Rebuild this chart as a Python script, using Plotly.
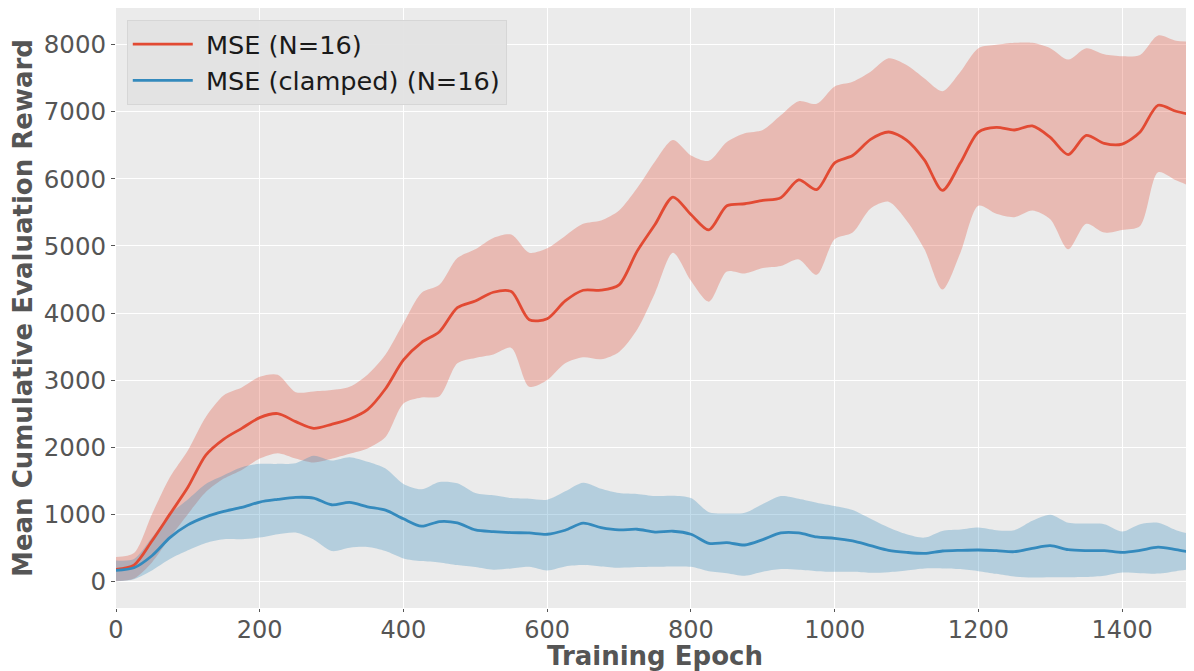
import plotly.graph_objects as go

# ---------------- data ----------------
epochs = list(range(0, 1501, 25))

mse_mean = [175, 240, 600, 1000, 1400, 1880, 2120, 2280, 2440, 2500,
            2380, 2280, 2340, 2420, 2560, 2870, 3300, 3560, 3720, 4080,
            4180, 4310, 4320, 3900, 3915, 4180, 4340, 4340, 4420, 4920,
            5320, 5730, 5470, 5240, 5600, 5630, 5680, 5720, 5985, 5840,
            6240, 6350, 6590, 6700, 6580, 6280, 5830, 6240, 6700, 6770,
            6730, 6790, 6620, 6363, 6650, 6531, 6520, 6700, 7100, 7010,
            6950]
mse_upper = [360, 420, 1000, 1550, 1950, 2450, 2775, 2890, 3050, 3080,
             2820, 2830, 2850, 2900, 3080, 3380, 3850, 4300, 4420, 4820,
             4950, 5120, 5170, 4900, 4965, 5150, 5330, 5380, 5530, 5860,
             6260, 6580, 6350, 6270, 6550, 6680, 6730, 6950, 7160, 7120,
             7380, 7450, 7600, 7800, 7700, 7500, 7310, 7600, 7950, 8000,
             8030, 8030, 7950, 7780, 7950, 7860, 7830, 7850, 8140, 8060,
             8050]
mse_lower = [0, 40, 280, 650, 1000, 1330, 1530, 1660, 1830, 1910,
             1830, 1770, 1825, 1900, 1980, 2150, 2650, 2740, 2760, 3250,
             3330, 3380, 3480, 2900, 3000, 3250, 3340, 3310, 3420, 3750,
             4300, 4900, 4480, 4170, 4620, 4590, 4670, 4700, 4800, 4570,
             5100, 5200, 5560, 5660, 5380, 4950, 4350, 4900, 5600, 5480,
             5430, 5530, 5400, 4950, 5330, 5200, 5240, 5300, 6100, 5980,
             5870]

clamp_mean = [160, 200, 380, 650, 840, 960, 1040, 1100, 1180, 1220,
              1250, 1240, 1140, 1175, 1110, 1060, 930, 820, 890, 870,
              765, 740, 725, 720, 700, 760, 865, 800, 765, 775,
              733, 745, 700, 565, 575, 540, 620, 720, 720, 660,
              640, 600, 530, 460, 430, 415, 450, 460, 465, 455,
              440, 490, 530, 470, 456, 456, 430, 460, 507, 470,
              422]
clamp_upper = [310, 330, 650, 1000, 1220, 1450, 1580, 1700, 1750, 1750,
               1760, 1870, 1800, 1850, 1780, 1680, 1450, 1370, 1480, 1460,
               1315, 1280, 1240, 1230, 1215, 1340, 1470, 1380, 1315, 1300,
               1270, 1275, 1240, 1030, 1010, 1020, 1150, 1270, 1230, 1170,
               1120, 1060, 930, 800, 700, 650, 750, 770, 800, 760,
               760, 900, 990, 870, 860, 850, 740, 850, 870, 760,
               690]
clamp_lower = [0, 30, 160, 330, 460, 570, 625, 625, 650, 700,
               725, 620, 450, 500, 510, 450, 340, 300, 280, 240,
               210, 170, 190, 215, 160, 220, 240, 220, 200, 210,
               215, 220, 215, 150, 120, 80, 140, 180, 170, 150,
               140, 140, 125, 135, 160, 190, 190, 180, 150, 110,
               70, 55, 60, 60, 62, 80, 130, 120, 113, 150,
               186]

x_ticks = [0, 200, 400, 600, 800, 1000, 1200, 1400]
y_ticks = [0, 1000, 2000, 3000, 4000, 5000, 6000, 7000, 8000]

series = [
    ("MSE (N=16)", mse_mean, mse_lower, mse_upper, "#E24A33", "rgba(226,74,51,0.30)"),
    ("MSE (clamped) (N=16)", clamp_mean, clamp_lower, clamp_upper, "#348ABD", "rgba(52,138,189,0.30)"),
]

FONT = "DejaVu Sans"
fig = go.Figure()

# bands first (below lines)
for name, mean, lo, hi, col, fcol in series:
    fig.add_trace(go.Scatter(x=epochs, y=lo, mode="lines",
                             line=dict(width=0, shape="spline", smoothing=0.8),
                             showlegend=False, hoverinfo="skip"))
    fig.add_trace(go.Scatter(x=epochs, y=hi, mode="lines", fill="tonexty",
                             fillcolor=fcol,
                             line=dict(width=0, shape="spline", smoothing=0.8),
                             showlegend=False, hoverinfo="skip"))

for name, mean, lo, hi, col, fcol in series:
    fig.add_trace(go.Scatter(x=epochs, y=mean, mode="lines", name="\u00a0" + name,
                             line=dict(color=col, width=2.8, shape="spline", smoothing=0.8)))

# the page body adds an 8px offset, so the figure is sized 8px smaller
fig.update_layout(
    width=1186, height=663,
    margin=dict(l=108, r=0, t=0, b=63),
    paper_bgcolor="white",
    plot_bgcolor="#EBEBEB",
    font=dict(family=FONT, color="#555555", size=24),
    showlegend=True,
    legend=dict(x=0.01, y=0.98, xanchor="left", yanchor="top",
                traceorder="normal",
                bgcolor="rgba(227,227,227,0.95)", bordercolor="#D6D6D6", borderwidth=1,
                font=dict(family=FONT, size=25.6, color="#1a1a1a"),
                itemwidth=60),
)
fig.update_xaxes(
    range=[0, 1500], tickvals=x_ticks, ticktext=[str(v) for v in x_ticks],
    showgrid=True, gridcolor="white", gridwidth=1, zeroline=False,
    ticks="outside", ticklen=3, tickcolor="#555555", ticklabelstandoff=-3,
    tickfont=dict(family=FONT, size=24, color="#555555"),
    title=dict(text="Training Epoch", standoff=6,
               font=dict(family=FONT, size=26, color="#555555", weight="bold")),
    showline=False,
)
fig.update_yaxes(
    range=[-400, 8550], tickvals=y_ticks, ticktext=[str(v) for v in y_ticks],
    showgrid=True, gridcolor="white", gridwidth=1, zeroline=False,
    ticks="outside", ticklen=4, tickcolor="#555555",
    tickfont=dict(family=FONT, size=24.5, color="#555555"),
    title=dict(text="Mean Cumulative Evaluation Reward", standoff=6,
               font=dict(family=FONT, size=26, color="#555555", weight="bold")),
    showline=False,
)

fig.write_html("out.html")
